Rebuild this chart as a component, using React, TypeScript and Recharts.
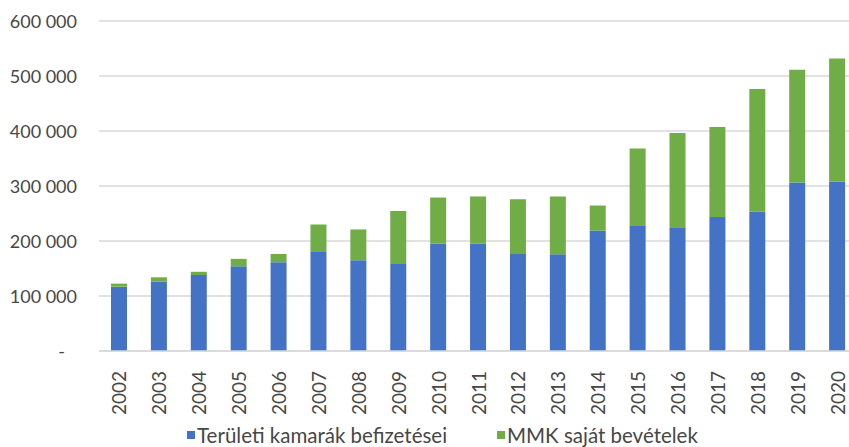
import { Bar, BarChart, CartesianGrid, Legend, XAxis, YAxis } from 'recharts';

const years = [
  '2002', '2003', '2004', '2005', '2006', '2007', '2008', '2009', '2010', '2011',
  '2012', '2013', '2014', '2015', '2016', '2017', '2018', '2019', '2020',
];
const teruletiBefizetesek = [
  117000, 126000, 138000, 154000, 161500, 181500, 165000, 158000, 195500, 195000,
  176500, 176000, 219000, 227500, 225000, 243500, 253000, 306500, 308000,
];
const mmkSajatBevetelek = [
  5500, 8000, 6000, 13500, 15000, 48500, 56000, 96500, 83500, 86000,
  99500, 105000, 45500, 140500, 171500, 164000, 223500, 205000, 224000,
];
const yTicks = [0, 100000, 200000, 300000, 400000, 500000, 600000];

const BLUE = '#4472C4';
const GREEN = '#70AD47';
const TEXT = '#474747';
const GRID = '#d9d9d9';
const FONT = 'Lato, "Open Sans", sans-serif';

const data = years.map((year, i) => ({
  year,
  teruleti: teruletiBefizetesek[i],
  mmk: mmkSajatBevetelek[i],
}));

function formatThousands(v: number): string {
  if (v === 0) return '-';
  return String(v).replace(/\B(?=(\d{3})+(?!\d))/g, ' ');
}

function YTick({ x, y, payload }: any) {
  const zero = payload.value === 0;
  return (
    <text
      x={zero ? x - 12 : x}
      y={y}
      textAnchor="end"
      dominantBaseline="central"
      fill={TEXT}
      fontSize={18}
      fontFamily={FONT}
    >
      {formatThousands(payload.value)}
    </text>
  );
}

function XTick({ x, y, payload }: any) {
  return (
    <text
      x={x}
      y={y}
      transform={`rotate(-90, ${x}, ${y})`}
      textAnchor="end"
      dominantBaseline="central"
      fill={TEXT}
      fontSize={19}
      fontFamily={FONT}
    >
      {payload.value}
    </text>
  );
}

function LegendContent() {
  const items = [
    { label: 'Területi kamarák befizetései', color: BLUE },
    { label: 'MMK saját bevételek', color: GREEN },
  ];
  return (
    <div
      style={{
        height: 30,
        paddingTop: 6,
        boxSizing: 'border-box',
        display: 'flex',
        alignItems: 'center',
        paddingLeft: 187,
        fontFamily: FONT,
        fontSize: 20.5,
        color: TEXT,
      }}
    >
      {items.map((it, i) => (
        <div
          key={it.label}
          style={{ display: 'flex', alignItems: 'center', width: i === 0 ? 310 : 'auto' }}
        >
          <span style={{ width: 8, height: 8, background: it.color, marginRight: 2 }} />
          <span style={{ lineHeight: '22px' }}>{it.label}</span>
        </div>
      ))}
    </div>
  );
}

export default function App() {
  return (
    <div
      style={{
        position: 'fixed',
        left: 0,
        top: 0,
        width: 849,
        height: 447,
        overflow: 'hidden',
        background: '#fff',
      }}
    >
      <BarChart
        width={857}
        height={447}
        data={data}
        margin={{ top: 21, right: 0, bottom: 0, left: 0 }}
        barSize={16}
      >
        <CartesianGrid vertical={false} stroke={GRID} strokeWidth={1.5} />
        <XAxis
          dataKey="year"
          height={66}
          interval={0}
          tickLine={false}
          axisLine={{ stroke: GRID, strokeWidth: 1.5 }}
          tickMargin={14}
          tick={<XTick />}
        />
        <YAxis
          width={99}
          domain={[0, 600000]}
          ticks={yTicks}
          axisLine={false}
          tickLine={false}
          tickMargin={16}
          tick={<YTick />}
        />
        <Legend
          verticalAlign="bottom"
          align="left"
          content={<LegendContent />}
        />
        <Bar dataKey="teruleti" stackId="a" fill={BLUE} isAnimationActive={false} />
        <Bar dataKey="mmk" stackId="a" fill={GREEN} isAnimationActive={false} />
      </BarChart>
    </div>
  );
}
